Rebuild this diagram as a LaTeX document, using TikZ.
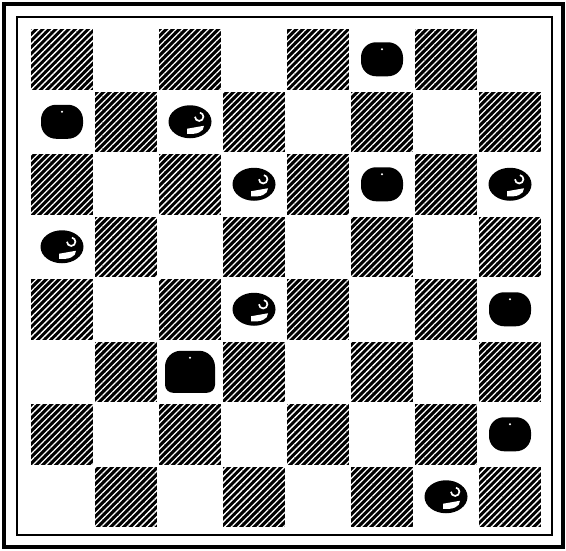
\documentclass[tikz,border=0pt]{standalone}
\usetikzlibrary{patterns.meta}

\begin{document}
\begin{tikzpicture}[
    x=1pt, y=-1pt,
    frameout/.style={draw, line width=4.5pt},
    framein/.style={draw, line width=1.6pt},
    darksq/.style={fill=black, postaction={pattern={Lines[angle=45, distance=4.6pt, line width=1.3pt]}, pattern color=white}},
    pics/blackman/.style={code={
        \fill[black, rounded corners=15pt] (-21,-17) rectangle (21,17);
        \fill[white] (0,-10) circle (1.1);
    }},
    pics/whiteman/.style={code={
        \fill[black] (0,0) ellipse (21.5 and 16.5);
        \draw[white, line width=1.7pt] (5,-5) arc[start angle=180, end angle=-80, radius=4.2];
        \fill[white] (-3,7) -- (14,4) .. controls (14,10) and (7,13) .. (-3,12) -- cycle;
    }},
    pics/blackking/.style={code={
        \fill[black] (-25,13) -- (-25,-5) arc[start angle=180, end angle=270, radius=16]
            -- (9,-21) arc[start angle=270, end angle=360, radius=16]
            -- (25,13) arc[start angle=0, end angle=90, radius=8]
            -- (-17,21) arc[start angle=90, end angle=180, radius=8] -- cycle;
        \fill[white] (0,-14) circle (1.1);
    }}
]
\useasboundingbox (0,0) rectangle (566,550);

% frame
\draw[frameout] (4,4) rectangle (563,547);
\draw[framein] (17,17) rectangle (552,535);

% dark squares
\foreach \r in {0,...,7}
  \foreach \c in {0,...,7}
  {
    \pgfmathtruncatemacro{\odd}{mod(\r+\c,2)}
    \ifnum\odd=0
      \fill[darksq] ({30+64*\c+1},{28+62.5*\r+1}) rectangle ({30+64*\c+63},{28+62.5*\r+61.5});
    \fi
  }

% pieces
\foreach \c/\r [count=\i] in {5/0, 0/1, 5/2, 7/4, 7/6}
  \pic (bm\i) at ({30+64*(\c+0.5)},{28+62.5*(\r+0.5)}) {blackman};
\foreach \c/\r [count=\i] in {2/1, 3/2, 7/2, 0/3, 3/4, 6/7}
  \pic (wm\i) at ({30+64*(\c+0.5)},{28+62.5*(\r+0.5)}) {whiteman};
\pic (bk) at ({30+64*2.5},{28+62.5*5.5}) {blackking};
\end{tikzpicture}
\end{document}
